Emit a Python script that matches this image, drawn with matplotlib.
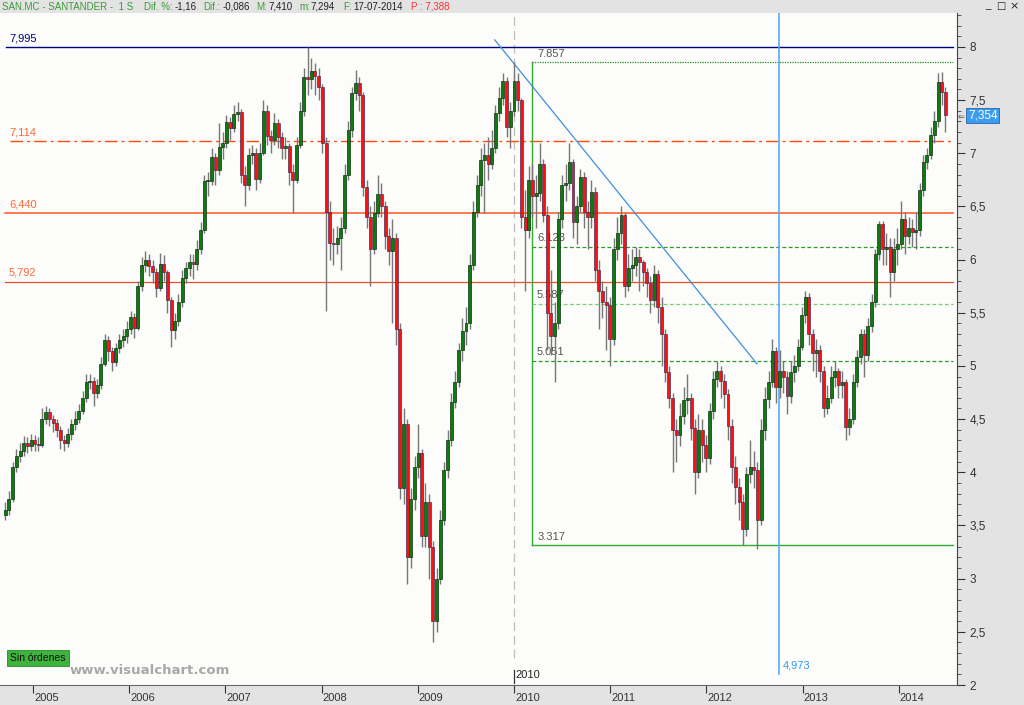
import matplotlib
matplotlib.use("Agg")
import matplotlib.pyplot as plt
import numpy as np
import pandas as pd
from matplotlib.transforms import blended_transform_factory

plt.rcParams['font.family'] = ['Liberation Sans', 'DejaVu Sans']

# ---------------- data (bi-weekly candles, SAN.MC) ----------------
start_date = '2004-09-17'
first_open = 3.60
closes = [3.65, 3.75, 4.05, 4.15, 4.20, 4.28, 4.25, 4.30, 4.27, 4.26,
          4.50, 4.57, 4.50, 4.46, 4.40, 4.30, 4.28, 4.36, 4.45, 4.50,
          4.58, 4.70, 4.85, 4.86, 4.75, 4.82, 5.02, 5.24, 5.14, 5.04,
          5.17, 5.24, 5.28, 5.35, 5.46, 5.36, 5.75, 5.95, 6.00, 5.94,
          5.88, 5.73, 5.96, 5.88, 5.62, 5.34, 5.42, 5.60, 5.83, 5.92,
          5.98, 5.96, 6.10, 6.28, 6.74, 6.74, 6.96, 6.84, 7.06, 7.10,
          7.29, 7.24, 7.37, 7.39, 6.80, 6.70, 6.98, 7.00, 6.76, 7.00,
          7.40, 7.16, 7.12, 7.28, 7.15, 7.05, 7.07, 6.82, 6.75, 7.08,
          7.40, 7.72, 7.70, 7.77, 7.73, 7.62, 7.10, 6.45, 6.16, 6.15,
          6.20, 6.30, 6.80, 7.22, 7.57, 7.66, 7.55, 6.68, 6.40, 6.10,
          6.44, 6.62, 6.50, 6.22, 6.08, 6.20, 5.35, 3.85, 4.45, 3.20,
          3.75, 4.05, 4.18, 3.40, 3.72, 3.30, 2.60, 3.00, 3.55, 4.02,
          4.30, 4.66, 4.85, 5.15, 5.33, 5.40, 5.95, 6.45, 6.70, 6.94,
          6.98, 6.90, 7.05, 7.38, 7.52, 7.68, 7.25, 7.40, 7.68, 7.50,
          6.40, 6.28, 6.75, 6.60, 6.63, 6.90, 6.42, 5.50, 5.28, 5.40,
          6.38, 6.70, 6.72, 6.92, 6.35, 6.50, 6.78, 6.45, 6.40, 6.64,
          5.90, 5.70, 5.60, 5.57, 5.25, 6.10, 6.25, 6.42, 5.75, 5.92,
          5.95, 6.02, 5.98, 5.88, 5.78, 5.62, 5.86, 5.55, 5.30, 4.94,
          4.70, 4.40, 4.35, 4.53, 4.68, 4.70, 4.42, 4.00, 4.40, 4.26,
          4.13, 4.58, 4.88, 4.95, 4.86, 4.74, 4.44, 4.05, 3.86, 3.72,
          3.47, 3.98, 4.05, 4.02, 3.55, 4.40, 4.69, 4.85, 5.14, 4.80,
          4.95, 4.90, 4.72, 4.94, 5.00, 5.18, 5.48, 5.65, 5.30, 5.12,
          5.15, 4.95, 4.60, 4.70, 4.90, 4.95, 4.82, 4.85, 4.43, 4.50,
          4.85, 5.08, 5.30, 5.10, 5.38, 5.60, 6.05, 6.33, 6.10, 6.12,
          5.88, 6.10, 6.15, 6.38, 6.22, 6.30, 6.26, 6.28, 6.65, 6.92,
          6.98, 7.17, 7.30, 7.67, 7.58, 7.36]
highs = [3.72, 3.82, 4.10, 4.22, 4.28, 4.34, 4.33, 4.36, 4.35, 4.33,
         4.60, 4.62, 4.60, 4.54, 4.50, 4.44, 4.35, 4.42, 4.50, 4.58,
         4.64, 4.76, 4.92, 4.92, 4.90, 4.88, 5.08, 5.30, 5.28, 5.18,
         5.22, 5.30, 5.35, 5.42, 5.52, 5.50, 5.80, 6.02, 6.08, 6.05,
         6.00, 5.92, 6.06, 6.04, 5.90, 5.65, 5.50, 5.68, 5.90, 5.98,
         6.05, 6.05, 6.18, 6.35, 6.80, 6.82, 7.05, 7.00, 7.28, 7.20,
         7.36, 7.34, 7.45, 7.48, 7.42, 6.88, 7.05, 7.08, 7.05, 7.10,
         7.50, 7.45, 7.22, 7.38, 7.32, 7.20, 7.15, 7.10, 6.90, 7.15,
         7.48, 7.80, 7.995, 7.90, 7.85, 7.80, 7.65, 7.15, 6.55, 6.30,
         6.32, 6.40, 6.90, 7.30, 7.62, 7.78, 7.72, 7.58, 6.75, 6.50,
         6.55, 6.80, 6.72, 6.55, 6.30, 6.38, 6.25, 5.40, 4.60, 4.50,
         3.85, 4.15, 4.45, 4.22, 3.90, 3.80, 3.35, 3.10, 3.65, 4.10,
         4.40, 4.75, 4.95, 5.22, 5.45, 5.55, 6.05, 6.55, 6.80, 7.05,
         7.10, 7.15, 7.22, 7.45, 7.62, 7.75, 7.72, 7.48, 7.857, 7.75,
         7.52, 6.65, 6.88, 6.90, 6.80, 7.10, 6.95, 6.50, 5.90, 5.60,
         6.45, 6.80, 6.90, 7.10, 6.95, 6.60, 6.85, 6.82, 6.55, 6.75,
         6.68, 6.00, 5.80, 5.75, 5.65, 6.20, 6.40, 6.50, 6.45, 6.05,
         6.10, 6.12, 6.10, 6.00, 5.92, 5.85, 5.95, 5.90, 5.65, 5.35,
         5.00, 4.75, 4.50, 4.65, 4.80, 4.92, 4.75, 4.50, 4.55, 4.50,
         4.35, 4.65, 4.95, 5.05, 5.00, 4.92, 4.78, 4.50, 4.15, 3.95,
         3.80, 4.05, 4.30, 4.20, 4.10, 4.50, 4.80, 4.95, 5.25, 5.18,
         5.15, 5.05, 4.95, 5.05, 5.10, 5.25, 5.55, 5.70, 5.69, 5.35,
         5.25, 5.20, 5.00, 4.82, 5.00, 5.05, 4.98, 4.95, 4.88, 4.60,
         4.92, 5.15, 5.35, 5.35, 5.45, 5.68, 6.10, 6.36, 6.36, 6.25,
         6.20, 6.20, 6.30, 6.55, 6.45, 6.40, 6.38, 6.45, 6.72, 6.98,
         7.05, 7.25, 7.40, 7.75, 7.76, 7.62]
lows = [3.55, 3.60, 3.72, 4.00, 4.10, 4.15, 4.18, 4.20, 4.20, 4.20,
        4.24, 4.45, 4.44, 4.38, 4.33, 4.22, 4.20, 4.24, 4.30, 4.40,
        4.46, 4.55, 4.66, 4.78, 4.62, 4.70, 4.78, 5.00, 5.05, 4.95,
        5.00, 5.12, 5.18, 5.22, 5.30, 5.26, 5.34, 5.70, 5.88, 5.85,
        5.78, 5.65, 5.70, 5.80, 5.50, 5.18, 5.25, 5.38, 5.55, 5.78,
        5.85, 5.82, 5.90, 6.05, 6.25, 6.60, 6.70, 6.70, 6.80, 6.95,
        7.05, 7.12, 7.20, 7.30, 6.72, 6.50, 6.65, 6.90, 6.65, 6.72,
        6.98, 7.08, 7.00, 7.08, 7.05, 6.95, 6.95, 6.70, 6.44, 6.72,
        7.05, 7.35, 7.55, 7.60, 7.55, 7.50, 7.00, 5.52, 6.00, 5.95,
        6.05, 5.90, 6.25, 6.75, 7.15, 7.50, 7.40, 6.60, 6.30, 5.75,
        6.05, 6.40, 6.40, 6.10, 5.95, 5.40, 5.20, 3.75, 3.70, 2.95,
        3.10, 3.65, 3.95, 3.30, 3.30, 3.00, 2.40, 2.50, 2.95, 3.50,
        3.95, 4.25, 4.60, 4.80, 5.05, 5.20, 5.35, 5.90, 6.40, 6.60,
        6.44, 6.75, 6.85, 7.00, 7.30, 7.45, 7.15, 7.05, 7.35, 7.40,
        6.30, 5.70, 6.20, 6.40, 6.30, 6.55, 6.35, 5.15, 5.10, 4.85,
        5.35, 6.30, 6.55, 6.65, 6.20, 6.15, 6.45, 6.30, 6.10, 6.30,
        5.80, 5.35, 5.45, 5.15, 5.00, 5.20, 6.00, 6.15, 5.65, 5.70,
        5.80, 5.85, 5.70, 5.75, 5.65, 5.50, 5.55, 5.40, 5.00, 4.85,
        4.60, 4.00, 4.10, 4.25, 4.45, 4.55, 4.30, 3.80, 3.95, 4.10,
        4.00, 4.08, 4.50, 4.80, 4.70, 4.60, 4.30, 3.90, 3.70, 3.55,
        3.32, 3.40, 3.90, 3.85, 3.28, 3.50, 4.30, 4.60, 4.80, 4.65,
        4.70, 4.75, 4.55, 4.65, 4.85, 4.95, 5.15, 5.40, 5.20, 4.95,
        4.90, 4.85, 4.52, 4.55, 4.65, 4.80, 4.70, 4.70, 4.30, 4.35,
        4.45, 4.80, 5.02, 4.90, 5.05, 5.32, 5.55, 6.00, 5.95, 5.95,
        5.65, 5.80, 5.95, 6.10, 6.05, 6.15, 6.12, 6.10, 6.22, 6.60,
        6.85, 6.95, 7.10, 7.25, 7.45, 7.20]

level_values = [7.995, 7.114, 6.440, 5.792]
level_labels = ['7,995', '7,114', '6,440', '5,792']
fib_top, fib_bottom = 7.857, 3.317
fib_levels = [6.123, 5.587, 5.051]
fib_labels = ['6.123', '5.587', '5.051']
fib_start = 2010.19
trend_t = [2009.80, 2012.526]
trend_v = [8.066, 5.02]
vline_t = 2012.755
vline_label = '4,973'
last_price = 7.354
years = list(range(2005, 2015))
ytick_vals = [2, 2.5, 3, 3.5, 4, 4.5, 5, 5.5, 6, 6.5, 7, 7.5, 8]
ytick_labels = ['2', '2,5', '3', '3,5', '4', '4,5', '5', '5,5', '6', '6,5', '7', '7,5', '8']

# ---------------- figure ----------------
W, H = 1024, 705
fig = plt.figure(figsize=(W / 100, H / 100), dpi=100, facecolor='#e3e3e3')


def fx(x):
    return x / W


def fy(y):
    return 1 - y / H


ax = fig.add_axes([fx(0), fy(685), fx(957), (685 - 13) / H])
ax.set_facecolor('#fcfdfa')

t0 = 2005 - 33 / 96.2
t1 = 2005 + (957 - 33) / 96.2
ax.set_xlim(t0, t1)
ax.set_ylim(8 - (685 - 47) / 106.7, 8 + (47 - 13) / 106.7)

dates = pd.date_range(start_date, periods=len(closes), freq='14D')
tpos = np.array([d.year + (d.dayofyear - 1) / 365.25 for d in dates])
closes_a = np.array(closes)
opens_a = np.concatenate([[first_open], closes_a[:-1]])
highs_a = np.array(highs)
lows_a = np.array(lows)
up = closes_a >= opens_a

# horizontal levels
xa_end = (953) / 957
ax.axhline(level_values[0], xmin=6 / 957, xmax=xa_end, color='#000080', lw=1.0, zorder=2)
ax.axhline(level_values[1], xmin=10 / 957, xmax=xa_end, color='#ff4a10', lw=1.0,
           dashes=(9, 3, 2, 3), zorder=2)
ax.axhline(level_values[2], xmin=5 / 957, xmax=xa_end, color='#ff5522', lw=1.1, zorder=2)
ax.axhline(level_values[3], xmin=5 / 957, xmax=xa_end, color='#e8502a', lw=0.9, zorder=2)
btr = blended_transform_factory(ax.transAxes, ax.transData)
lab_cols = ['#000080', '#ff6a3a', '#ff6a3a', '#ff6a3a']
for v, lab, c in zip(level_values, level_labels, lab_cols):
    ax.text(9 / 957, v + 0.035, lab, transform=btr, color=c, fontsize=8, ha='left', va='bottom', zorder=2)

# fibonacci box
t_right = 2005 + (953 - 33) / 96.2
ax.plot([fib_start, fib_start], [fib_bottom, fib_top], color='#33aa33', lw=1.0, zorder=2)
ax.plot([fib_start, t_right], [fib_top, fib_top], color='#228822', lw=0.9, ls=(0, (1, 1)), zorder=2)
ax.plot([fib_start, t_right], [fib_bottom, fib_bottom], color='#33aa33', lw=1.0, zorder=2)
fib_cols = ['#2a9a2a', '#7acc7a', '#2a9a2a']
for v, c in zip(fib_levels, fib_cols):
    ax.plot([fib_start, t_right], [v, v], color=c, lw=0.9, ls=(0, (3, 2)), zorder=2)
for v, lab in zip([fib_top] + fib_levels + [fib_bottom], ['7.857'] + fib_labels + ['3.317']):
    ax.text(fib_start + 0.05, v + 0.03, lab, color='#555555', fontsize=8, ha='left', va='bottom', zorder=2)

# 2010 dashed vertical
ax.plot([2010.0, 2010.0], [2.25, 8.4], color='#bdbdbd', lw=0.9, dashes=(7, 4), zorder=1)
ax.plot([2010.0, 2010.0], [2.02, 2.14], color='#333333', lw=0.9, zorder=3)
ax.text(2010.02, 2.05, '2010', fontsize=8, color='#222222', ha='left', va='bottom', zorder=3)

# blue vertical line
ax.plot([vline_t, vline_t], [2.1, 8.4], color='#5aaaf0', lw=1.2, zorder=2)
ax.text(vline_t + 0.04, 2.14, vline_label, color='#3399ee', fontsize=8, ha='left', va='bottom', zorder=3)

# trend line
ax.plot(trend_t, trend_v, color='#3f8fdf', lw=0.9, zorder=2)

# candles
bw = 0.031
ax.vlines(tpos, lows_a, highs_a, color='#777777', lw=1.0, zorder=3)
body_lo = np.minimum(opens_a, closes_a)
body_h = np.maximum(np.abs(closes_a - opens_a), 0.01)
ax.bar(tpos[up], body_h[up], bottom=body_lo[up], width=bw, color='#0c7c0c',
       edgecolor='#0a200a', linewidth=0.45, zorder=4)
ax.bar(tpos[~up], body_h[~up], bottom=body_lo[~up], width=bw, color='#ff1010',
       edgecolor='#202050', linewidth=0.4, zorder=4)

# axes styling
for s in ['top', 'left']:
    ax.spines[s].set_visible(False)
ax.spines['right'].set_color('#444444')
ax.spines['bottom'].set_color('#666666')
ax.yaxis.tick_right()
ax.set_yticks(ytick_vals)
ax.set_yticklabels(ytick_labels)
ax.set_yticks(np.arange(2.1, 8.35, 0.1), minor=True)
ax.tick_params(axis='y', which='major', length=6, width=0.8, colors='#333333', labelsize=8.5, pad=3)
ax.tick_params(axis='y', which='minor', length=3, width=0.7, colors='#555555')
ax.set_xticks(years)
ax.set_xticklabels([])
ax.tick_params(axis='x', which='major', length=6, width=0.8, colors='#333333', direction='out')
btx = blended_transform_factory(ax.transData, ax.transAxes)
for yv in years:
    ax.text(yv + 0.01, -0.012, str(yv), transform=btx, fontsize=8, color='#333333',
            ha='left', va='top')

# last price marker
bry = blended_transform_factory(ax.transAxes, ax.transData)
ax.text(1 + 11 / 957, last_price, '7,354', transform=bry, fontsize=8.5, color='white',
        ha='left', va='center', bbox=dict(boxstyle='square,pad=0.15', fc='#3c9cf0', ec='#2266aa', lw=0.6),
        zorder=6, clip_on=False)
ax.text(1 + 1 / 957, last_price, '⇐', transform=bry, fontsize=6, color='#555555',
        ha='left', va='center', clip_on=False, family=['DejaVu Sans'])

# bottom-left box and watermark
fig.text(fx(10), fy(658), 'Sin órdenes', fontsize=7.5, color='#111111', ha='left', va='center',
         bbox=dict(boxstyle='square,pad=0.3', fc='#3db43d', ec='#2a8a2a', lw=0.6))
fig.text(fx(70), fy(671), 'www.visualchart.com', fontsize=9.5, color='#a8a8a8', fontweight='bold',
         ha='left', va='center', family=['DejaVu Sans'])

# header
g = '#3a9a3a'
k = '#222222'
hdr = [(2, 'SAN.MC - SANTANDER -  1 S', g), (144, 'Dif. %:', g), (175, '-1,16', k),
       (203, 'Dif.:', g), (223, '-0,086', k), (256, 'M:', g), (268, '7,410', k),
       (299, 'm:', g), (310, '7,294', k), (343, 'F:', g), (353, '17-07-2014', k),
       (411, 'P : 7,388', '#ff3030')]
for xh, s, c in hdr:
    fig.text(fx(xh), fy(6.5), s, fontsize=7.0, color=c, ha='left', va='center')
fig.text(fx(988), fy(5), '_', fontsize=7, color='#222222', ha='center', va='center')
fig.text(fx(1001), fy(6), '□', fontsize=7, color='#222222', ha='center', va='center', family=['DejaVu Sans'])
fig.text(fx(1014), fy(6), '×', fontsize=8, color='#222222', ha='center', va='center', family=['DejaVu Sans'])

fig.savefig('out.png', dpi=100, facecolor=fig.get_facecolor())
